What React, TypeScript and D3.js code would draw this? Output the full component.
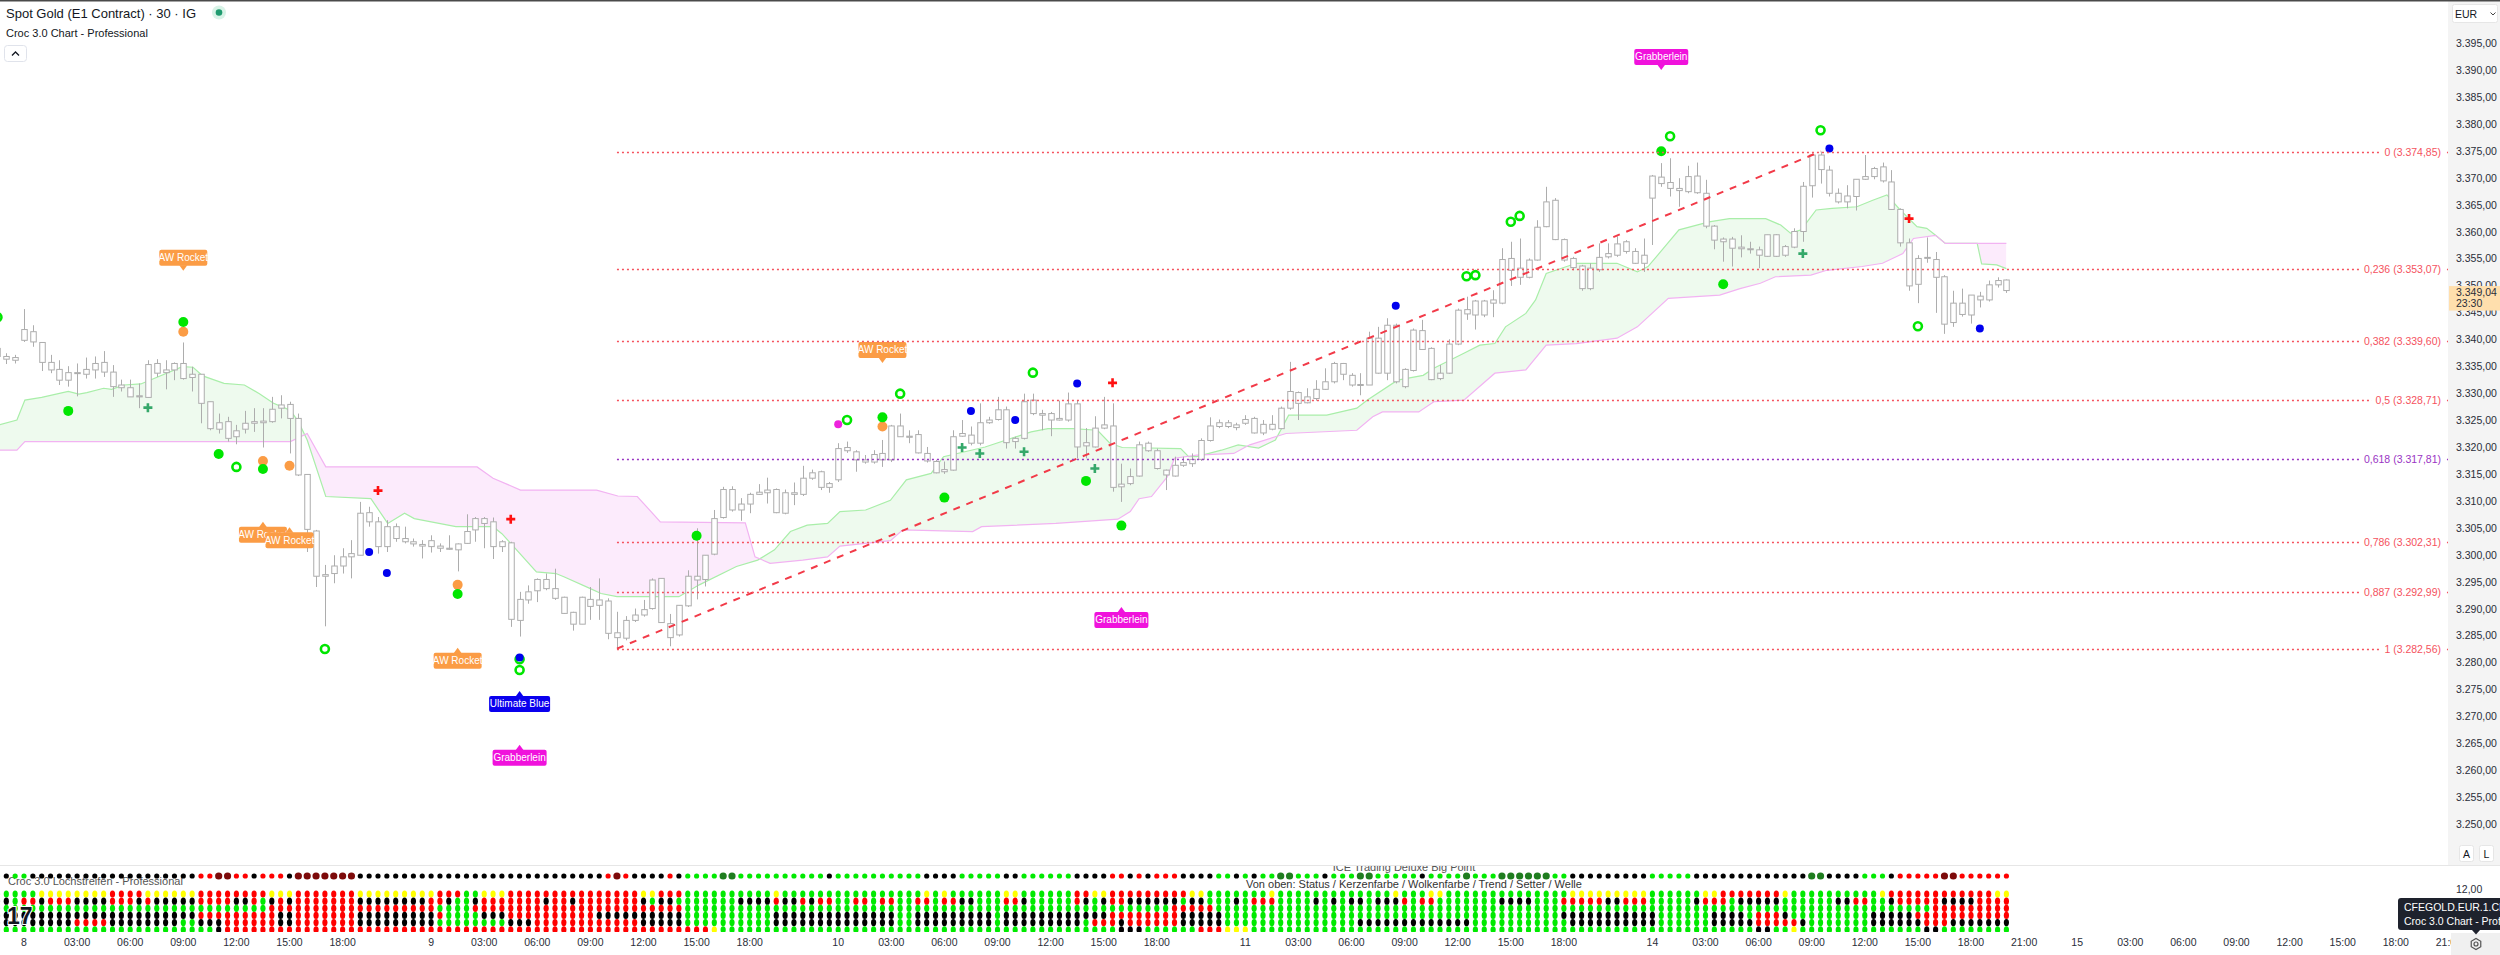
import React, { useEffect, useRef } from 'react';
import * as d3 from 'd3';

const W = 2500;
const H = 955;
const PANE_RIGHT = 2448;
const PANE_BOTTOM = 865;
const FIRST_BAR = -3;

// [open, high, low, close] per 30 min bar, first bar index = FIRST_BAR
const ohlc: number[][] = [
  [3338.3, 3338.6, 3336.4, 3336.8], [3336.8, 3337.4, 3335.4, 3336.3], [3336.1, 3337.1, 3335.5, 3336.6],
  [3339.8, 3345.6, 3339.5, 3341.8], [3341.4, 3342.6, 3338.6, 3339.5], [3339.4, 3339.4, 3334.1, 3335.7],
  [3335.7, 3337.1, 3333.7, 3334.3], [3334.4, 3336.1, 3331.5, 3332.4], [3332.4, 3335.0, 3331.2, 3333.8],
  [3333.8, 3335.5, 3329.4, 3333.7], [3333.5, 3336.6, 3332.7, 3334.4], [3334.3, 3336.8, 3332.7, 3335.5],
  [3335.7, 3337.8, 3333.0, 3333.9], [3333.9, 3335.2, 3329.3, 3331.2], [3331.5, 3332.5, 3330.3, 3331.0],
  [3331.0, 3332.5, 3329.3, 3329.3], [3329.5, 3331.8, 3327.2, 3329.3], [3329.2, 3336.1, 3329.2, 3335.3],
  [3335.5, 3336.3, 3333.0, 3333.7], [3333.8, 3336.1, 3330.7, 3334.3], [3334.3, 3335.7, 3332.4, 3335.5],
  [3335.5, 3339.4, 3332.5, 3332.7], [3332.9, 3334.9, 3330.3, 3333.5], [3333.5, 3333.5, 3324.4, 3328.1],
  [3328.4, 3328.4, 3323.1, 3323.4], [3323.3, 3326.2, 3322.5, 3324.5], [3324.7, 3325.6, 3321.0, 3321.6],
  [3321.9, 3324.1, 3320.5, 3323.0], [3323.3, 3326.7, 3322.5, 3324.4], [3324.4, 3327.2, 3322.8, 3324.7],
  [3324.5, 3327.2, 3319.9, 3324.8], [3324.7, 3329.3, 3324.5, 3327.0], [3327.2, 3329.6, 3325.3, 3327.8],
  [3327.9, 3328.4, 3318.8, 3325.3], [3325.3, 3326.2, 3314.6, 3314.8], [3314.9, 3314.9, 3300.5, 3304.7],
  [3304.4, 3304.6, 3294.0, 3296.0], [3296.0, 3298.1, 3286.7, 3296.3], [3296.5, 3299.9, 3294.7, 3297.9],
  [3297.9, 3301.2, 3296.5, 3299.6], [3299.6, 3302.7, 3295.6, 3300.2], [3299.9, 3309.8, 3299.9, 3307.7],
  [3307.8, 3308.9, 3305.2, 3306.1], [3306.1, 3307.0, 3300.2, 3301.5], [3301.5, 3306.4, 3300.5, 3305.2],
  [3305.2, 3305.8, 3302.4, 3303.0], [3303.0, 3305.2, 3302.1, 3302.4], [3302.4, 3303.0, 3301.5, 3302.0],
  [3301.9, 3302.7, 3299.3, 3301.6], [3301.5, 3303.6, 3300.4, 3302.6], [3301.6, 3302.1, 3300.5, 3301.2],
  [3301.2, 3303.6, 3300.9, 3301.0], [3300.9, 3302.1, 3296.9, 3302.0], [3302.1, 3307.5, 3302.0, 3304.3],
  [3304.6, 3307.0, 3302.4, 3306.7], [3306.7, 3307.0, 3301.2, 3305.8], [3306.1, 3306.9, 3299.2, 3301.5],
  [3301.5, 3302.7, 3300.5, 3302.4], [3302.2, 3302.4, 3286.6, 3288.0], [3287.8, 3293.1, 3284.8, 3291.7],
  [3291.6, 3294.3, 3290.9, 3293.1], [3293.3, 3295.6, 3291.2, 3295.4], [3295.4, 3296.5, 3293.4, 3293.7],
  [3293.7, 3297.4, 3291.6, 3291.9], [3292.1, 3292.2, 3289.0, 3289.1], [3289.3, 3289.4, 3285.9, 3287.1],
  [3287.1, 3292.2, 3287.1, 3292.1], [3291.7, 3294.0, 3287.9, 3290.4], [3290.6, 3295.6, 3287.9, 3291.6],
  [3291.4, 3291.9, 3284.3, 3285.4], [3285.5, 3289.4, 3282.56, 3284.6], [3284.5, 3288.6, 3284.1, 3287.8],
  [3287.8, 3290.0, 3287.5, 3288.8], [3288.8, 3291.6, 3288.5, 3289.8], [3290.0, 3295.6, 3289.8, 3295.3],
  [3295.6, 3295.6, 3287.4, 3287.4], [3287.2, 3289.0, 3283.0, 3284.6], [3285.1, 3290.6, 3284.8, 3290.6],
  [3290.5, 3297.1, 3290.3, 3296.0], [3296.0, 3304.9, 3291.7, 3295.3], [3295.4, 3299.9, 3294.1, 3299.9],
  [3300.1, 3308.3, 3299.9, 3306.7], [3306.9, 3312.6, 3306.7, 3312.1], [3312.1, 3312.7, 3308.0, 3308.3],
  [3308.3, 3310.5, 3306.3, 3309.4], [3309.4, 3311.5, 3307.7, 3311.2], [3311.2, 3313.1, 3311.1, 3311.6],
  [3311.5, 3314.3, 3309.5, 3312.0], [3312.1, 3312.3, 3307.7, 3307.8], [3307.7, 3312.1, 3307.5, 3311.5],
  [3311.2, 3313.4, 3309.2, 3311.5], [3311.2, 3316.5, 3310.9, 3314.2], [3314.2, 3315.8, 3313.9, 3315.2],
  [3315.4, 3315.6, 3312.0, 3312.5], [3312.5, 3313.5, 3311.5, 3313.2], [3313.9, 3320.7, 3313.5, 3319.7],
  [3319.3, 3321.0, 3318.9, 3319.9], [3319.1, 3319.4, 3315.4, 3317.6], [3317.6, 3318.5, 3316.9, 3317.2],
  [3317.2, 3319.4, 3316.9, 3318.6], [3317.6, 3321.3, 3316.3, 3318.8], [3317.6, 3324.1, 3317.2, 3323.9],
  [3323.9, 3326.2, 3321.9, 3321.9], [3322.0, 3323.1, 3320.7, 3321.8], [3322.3, 3323.1, 3318.8, 3318.9],
  [3318.8, 3320.0, 3317.1, 3317.4], [3317.3, 3317.6, 3315.1, 3315.2], [3315.4, 3317.3, 3315.0, 3315.8],
  [3315.7, 3323.1, 3315.6, 3321.9], [3322.0, 3325.0, 3321.9, 3322.5], [3322.2, 3323.8, 3320.3, 3320.7],
  [3320.7, 3328.1, 3320.3, 3324.5], [3324.5, 3325.6, 3324.3, 3325.0], [3325.1, 3329.3, 3324.9, 3326.9],
  [3326.9, 3327.5, 3319.7, 3320.8], [3321.0, 3321.9, 3319.7, 3321.6], [3321.6, 3329.9, 3321.4, 3328.4],
  [3328.7, 3329.9, 3325.9, 3326.2], [3326.2, 3326.9, 3323.1, 3325.9], [3326.2, 3326.5, 3322.0, 3325.0],
  [3325.0, 3328.6, 3324.9, 3325.3], [3325.0, 3330.1, 3324.7, 3328.0], [3328.0, 3328.7, 3317.9, 3320.0],
  [3320.2, 3323.5, 3317.9, 3320.8], [3320.0, 3325.7, 3319.9, 3323.5], [3323.5, 3329.3, 3323.3, 3324.1],
  [3323.9, 3328.1, 3311.7, 3312.5], [3312.6, 3316.9, 3309.8, 3313.1], [3313.2, 3316.0, 3312.9, 3314.5],
  [3314.6, 3321.0, 3314.5, 3320.4], [3320.7, 3321.0, 3319.1, 3319.3], [3319.3, 3319.7, 3315.8, 3316.0],
  [3315.7, 3315.8, 3312.0, 3314.8], [3314.6, 3318.2, 3314.5, 3316.6], [3316.6, 3318.2, 3316.3, 3317.1],
  [3316.9, 3318.8, 3316.3, 3317.7], [3317.7, 3321.6, 3317.4, 3321.2], [3321.2, 3325.5, 3321.0, 3323.9],
  [3323.8, 3325.1, 3323.5, 3324.5], [3324.5, 3325.0, 3323.5, 3323.8], [3323.6, 3324.5, 3323.1, 3324.1],
  [3324.4, 3325.9, 3324.1, 3325.1], [3325.3, 3325.6, 3322.5, 3322.6], [3322.6, 3325.0, 3322.2, 3324.2],
  [3324.2, 3325.9, 3323.1, 3323.3], [3323.4, 3327.5, 3323.3, 3327.2], [3327.2, 3335.8, 3326.9, 3330.3],
  [3330.1, 3330.3, 3325.0, 3328.1], [3328.2, 3330.9, 3328.1, 3329.3], [3329.0, 3332.4, 3328.6, 3330.7],
  [3330.7, 3334.6, 3330.6, 3332.1], [3332.1, 3335.8, 3331.8, 3335.5], [3335.5, 3335.6, 3332.4, 3333.5],
  [3333.3, 3333.7, 3331.2, 3331.5], [3331.5, 3333.7, 3329.6, 3331.6], [3331.5, 3341.4, 3331.5, 3340.2],
  [3340.2, 3342.3, 3333.6, 3333.7], [3333.7, 3343.9, 3332.4, 3342.6], [3342.6, 3342.9, 3331.8, 3332.1],
  [3331.2, 3334.6, 3330.9, 3334.4], [3334.2, 3342.0, 3334.0, 3341.7], [3341.6, 3343.6, 3338.0, 3338.1],
  [3338.3, 3338.5, 3332.4, 3332.5], [3332.7, 3335.2, 3332.4, 3333.7], [3333.7, 3340.0, 3333.6, 3339.1],
  [3339.1, 3345.7, 3338.9, 3345.4], [3344.7, 3347.9, 3343.6, 3345.5], [3344.5, 3347.3, 3341.8, 3347.1],
  [3347.1, 3347.3, 3344.1, 3344.5], [3346.7, 3349.1, 3344.1, 3347.3], [3346.7, 3356.9, 3346.5, 3354.8],
  [3355.0, 3358.1, 3349.9, 3352.8], [3353.2, 3358.7, 3350.1, 3351.5], [3351.5, 3355.0, 3351.3, 3354.7],
  [3354.7, 3362.1, 3354.6, 3360.8], [3360.9, 3368.3, 3360.8, 3365.5], [3365.8, 3366.2, 3358.4, 3358.5],
  [3358.5, 3358.7, 3354.4, 3354.7], [3355.0, 3355.3, 3352.8, 3353.3], [3353.6, 3353.8, 3349.0, 3349.4],
  [3349.4, 3354.1, 3349.1, 3353.2], [3352.9, 3357.8, 3352.5, 3355.2], [3355.3, 3357.8, 3355.0, 3355.9],
  [3355.6, 3359.1, 3355.3, 3357.7], [3358.1, 3358.4, 3355.9, 3356.3], [3356.3, 3356.9, 3354.0, 3354.1],
  [3354.1, 3358.7, 3352.5, 3355.6], [3366.2, 3370.5, 3357.5, 3370.3], [3370.1, 3372.7, 3368.3, 3368.9],
  [3369.1, 3373.6, 3366.5, 3368.0], [3368.0, 3369.9, 3364.6, 3367.6], [3367.4, 3372.2, 3367.1, 3370.2],
  [3370.3, 3372.8, 3367.0, 3367.2], [3367.1, 3369.6, 3360.6, 3361.0], [3361.0, 3361.2, 3356.7, 3358.4],
  [3358.6, 3358.9, 3354.4, 3358.1], [3358.6, 3359.0, 3353.5, 3356.9], [3357.1, 3359.3, 3355.2, 3356.8],
  [3356.8, 3358.1, 3355.9, 3356.7], [3356.6, 3357.2, 3353.2, 3355.6], [3355.4, 3359.4, 3355.3, 3359.4],
  [3359.4, 3359.5, 3355.3, 3355.4], [3355.6, 3357.5, 3355.3, 3357.2], [3357.1, 3360.6, 3356.9, 3360.0],
  [3360.0, 3369.2, 3358.1, 3368.4], [3368.5, 3374.5, 3366.3, 3374.2], [3374.2, 3374.85, 3368.9, 3371.5],
  [3371.4, 3372.2, 3366.5, 3367.1], [3367.1, 3368.0, 3365.2, 3365.5], [3365.5, 3368.6, 3364.3, 3366.6],
  [3366.5, 3369.7, 3363.9, 3369.7], [3369.7, 3374.2, 3369.6, 3370.2], [3370.2, 3372.0, 3369.7, 3371.7],
  [3372.0, 3372.8, 3369.1, 3369.4], [3369.2, 3371.4, 3364.0, 3364.1], [3364.1, 3364.3, 3357.2, 3357.9],
  [3357.9, 3358.7, 3349.0, 3349.9], [3350.2, 3355.6, 3346.7, 3355.0], [3355.2, 3358.9, 3354.2, 3355.1],
  [3354.8, 3356.2, 3344.9, 3351.5], [3351.6, 3351.9, 3341.0, 3342.8], [3343.1, 3349.0, 3342.3, 3346.7],
  [3346.7, 3349.4, 3344.2, 3344.6], [3344.5, 3348.2, 3342.9, 3348.2], [3348.0, 3348.8, 3345.9, 3347.3],
  [3347.3, 3350.9, 3347.0, 3350.1], [3350.1, 3351.5, 3349.6, 3350.9], [3351.0, 3351.1, 3348.6, 3349.04],
];

// cloud edges read at their vertices: [bar, price]
const spanGreen: [number, number][] = [
  [-3, 3324.0], [-0.8, 3325.0], [0.1, 3328.7], [2, 3329.2], [5, 3330.3], [6.2, 3329.8], [7.1, 3330.1],
  [9, 3330.9], [9.9, 3330.7], [11.3, 3331.5], [13.2, 3331.7], [15.1, 3333.0], [17.9, 3334.9], [19.1, 3334.8],
  [20.2, 3333.2], [22.6, 3331.8], [24.9, 3331.5], [26.6, 3329.9], [28.2, 3328.1], [30.1, 3326.8], [31, 3324.7],
  [32, 3321.3], [34.1, 3310.8], [39.2, 3310.4], [41.1, 3305.8], [43, 3307.7], [44.1, 3306.7], [48.8, 3305.2],
  [53, 3305.2], [54, 3303.9], [57.9, 3296.8], [60.1, 3296.5], [61, 3295.9], [64, 3293.7], [65.2, 3292.8],
  [67, 3292.2], [74, 3292.2], [76.3, 3294.4], [80.5, 3297.8], [82.9, 3299.0], [84.8, 3300.9], [86.6, 3304.3],
  [88.5, 3305.5], [90.8, 3305.8], [92.2, 3308.0], [95.1, 3308.3], [97.9, 3310.1], [99.7, 3313.9], [102.5, 3315.1],
  [103.9, 3318.2], [108.6, 3320.0], [113.8, 3322.8], [115.7, 3323.4], [118.5, 3323.4], [121.3, 3323.1],
  [122.7, 3320.7], [124.1, 3319.9], [130.7, 3319.7], [131.6, 3318.2], [132.5, 3318.2], [135.3, 3319.4],
  [137.2, 3320.4], [139.5, 3319.8], [141.4, 3321.3], [142.9, 3325.9], [147.2, 3325.9], [150.6, 3327.2],
  [151.8, 3328.7], [155.2, 3332.4], [158.1, 3333.3], [159.3, 3334.6], [162.7, 3337.4], [164.5, 3338.9],
  [166.2, 3339.2], [167.4, 3342.3], [169.7, 3344.8], [170.8, 3347.3], [172, 3352.2], [175.4, 3354.1],
  [180, 3354.1], [182.3, 3352.5], [183.5, 3353.5], [184.6, 3355.6], [187, 3360.3], [190.4, 3361.8],
  [192.7, 3362.4], [196.8, 3362.4], [198.5, 3361.2], [199.6, 3359.7], [200.8, 3360.3], [202.5, 3364.0],
  [204.3, 3364.3], [207.1, 3364.6], [208.9, 3365.8], [210.5, 3366.8], [212, 3364.0], [213.9, 3360.9],
  [215, 3360.6], [216, 3359.3], [217.1, 3357.8], [220.7, 3357.8], [221.2, 3354.0], [222.9, 3353.8], [224, 3353.1],
];

const spanPink: [number, number][] = [
  [-3, 3319.4], [-0.8, 3319.4], [0.1, 3321.0], [30.1, 3321.0], [32, 3322.5], [34.1, 3316.3], [51.2, 3316.3],
  [53, 3314.2], [56.1, 3312.0], [64.7, 3312.0], [67.1, 3310.9], [69.3, 3310.8], [71.9, 3306.1], [81.5, 3305.9],
  [82.6, 3299.6], [84.3, 3298.4], [88, 3299.0], [90.8, 3299.6], [92.2, 3301.6], [97.9, 3302.6], [99.3, 3304.6],
  [107.2, 3304.3], [108.2, 3305.2], [116.6, 3305.8], [123.6, 3306.6], [125, 3308.0], [126, 3310.4],
  [127.4, 3310.8], [129.2, 3314.5], [130, 3317.9], [132.5, 3318.5], [136.7, 3318.8], [138.5, 3320.4],
  [142.6, 3322.5], [150.6, 3323.1], [152.4, 3325.6], [153.5, 3326.5], [157.6, 3326.5], [159.3, 3328.4],
  [162.7, 3328.7], [166.2, 3333.7], [169.7, 3334.3], [172, 3338.9], [175.4, 3339.2], [180, 3340.2],
  [182.3, 3342.3], [185.8, 3347.6], [191.6, 3348.2], [193.9, 3349.4], [196.2, 3350.4], [197.9, 3351.6],
  [201.9, 3351.9], [203.7, 3352.8], [207.7, 3353.5], [210, 3354.1], [212.3, 3355.9], [213.5, 3358.7],
  [216, 3359.3], [217.1, 3357.8], [224, 3357.8],
];

const fibRatios = ['0', '0,236', '0,382', '0,5', '0,618', '0,786', '0,887', '1'];
const fibPrices = [3374.85, 3353.07, 3339.60, 3328.71, 3317.81, 3302.31, 3292.99, 3282.56];
const fibStartBar = 67;
const trendFrom: [number, number] = [67, 3282.56];
const trendTo: [number, number] = [203, 3374.85];

// [bar, price, kind]
const markers: [number, number, string][] = [
  [-3, 3344.1, 'ring'], [5, 3326.7, 'dot'], [14, 3327.3, 'plusG'], [18, 3341.4, 'orange'], [18, 3343.2, 'dot'],
  [22, 3318.7, 'dot'], [24, 3316.3, 'ring'], [27, 3317.4, 'orange'], [27, 3315.9, 'dot'], [30, 3316.5, 'orange'],
  [34, 3282.5, 'ring'], [39, 3300.5, 'blue'], [40, 3311.9, 'plusR'], [41, 3296.6, 'blue'],
  [49, 3294.4, 'orange'], [49, 3292.7, 'dot'], [55, 3306.6, 'plusR'],
  [56, 3280.6, 'ring'], [56, 3280.9, 'blue'], [56, 3278.6, 'ring'],
  [76, 3303.5, 'dot'], [92, 3324.2, 'magenta'], [93, 3325.0, 'ring'], [97, 3323.8, 'orange'], [97, 3325.5, 'dot'],
  [99, 3329.9, 'ring'], [104, 3310.6, 'dot'], [106, 3319.9, 'plusG'], [107, 3326.7, 'blue'], [108, 3318.8, 'plusG'],
  [112, 3325.0, 'blue'], [113, 3319.1, 'plusG'], [114, 3333.8, 'ring'], [119, 3331.8, 'blue'], [120, 3313.7, 'dot'],
  [121, 3316.0, 'plusG'], [123, 3331.9, 'plusR'], [124, 3305.4, 'dot'],
  [155, 3346.2, 'blue'], [163, 3351.7, 'ring'], [164, 3351.9, 'ring'], [168, 3361.8, 'ring'], [169, 3362.9, 'ring'],
  [185, 3374.9, 'dot'], [186, 3377.7, 'ring'], [192, 3350.2, 'dot'], [201, 3355.9, 'plusG'],
  [203, 3378.8, 'ring'], [204, 3375.4, 'blue'], [213, 3362.4, 'plusR'], [214, 3342.4, 'ring'], [221, 3342.0, 'blue'],
];

// [bar, tip price, text, direction]
const callouts: [number, number, string, string][] = [
  [18, 3352.7, 'AW Rocket', 'down'],
  [97, 3335.6, 'AW Rocket', 'down'],
  [27, 3306.1, 'AW Rocket', 'up'],
  [30, 3305.1, 'AW Rocket', 'up'],
  [49, 3282.7, 'AW Rocket', 'up'],
  [56, 3274.7, 'Ultimate Blue', 'up'],
  [56, 3264.7, 'Grabberlein', 'up'],
  [124, 3290.3, 'Grabberlein', 'up'],
  [185, 3390.0, 'Grabberlein', 'down'],
];

const priceTicks = [3395, 3390, 3385, 3380, 3375, 3370, 3365, 3360, 3355, 3350, 3345, 3340, 3335, 3330,
  3325, 3320, 3315, 3310, 3305, 3300, 3295, 3290, 3285, 3280, 3275, 3270, 3265, 3260, 3255, 3250];
const lastPrice = 3349.04;

const timeTicks: [number, string][] = [
  [0, '8'], [6, '03:00'], [12, '06:00'], [18, '09:00'], [24, '12:00'], [30, '15:00'], [36, '18:00'],
  [46, '9'], [52, '03:00'], [58, '06:00'], [64, '09:00'], [70, '12:00'], [76, '15:00'], [82, '18:00'],
  [92, '10'], [98, '03:00'], [104, '06:00'], [110, '09:00'], [116, '12:00'], [122, '15:00'], [128, '18:00'],
  [138, '11'], [144, '03:00'], [150, '06:00'], [156, '09:00'], [162, '12:00'], [168, '15:00'], [174, '18:00'],
  [184, '14'], [190, '03:00'], [196, '06:00'], [202, '09:00'], [208, '12:00'], [214, '15:00'], [220, '18:00'],
  [226, '21:00'], [232, '15'], [238, '03:00'], [244, '06:00'], [250, '09:00'], [256, '12:00'], [262, '15:00'],
  [268, '18:00'], [274, '21:00'],
];

// punch strip rows, run-length: colour letter + count, one dot per bar
const bigPointRow = 'g1k1g2k19r2R2r2k1r2r1k1R7k27k1r1R1r1k4r1k1g4G2g10k1g10k4g5k2g6k4r2k1r1k1r3k4g2k1g1k1g2G2g3k1g3G2g5k1g4G1g3G6g2k9g5k13G2k4g3k1r5R2r6';
const statusRow = 'g5y8r4y6r8y3r7y9r3g2y3r15y2r3g10y1g16y1g1y1g6y2g6r2y2r9y2g7y1g13y1g3y2g14y9g6y2r7y1g10y1r12y2';
const candleRow = 'k2g1r2k1r3k4r3k1r1k5r4k2r1g1k1r1k1r7k8r2k1g2k1r3r4k1r2k1r7k1g1k2g7k4r1k2r1k1r2g2r2g1r2g2r2g1r2k2g3r2k1g5r1k1g1k1r2k6g1k2g3k1g1r3g4k1g1k1g1k2g1k3r1g1r2g7k4g3r5k2r3g5k1r3g1k5g6k2r2g2k1r5k4r4';
const cloudRow = 'g31r19g4r24g55r5g81r9';
const trendRow = 'k23r9k2r7k9r1g4k3r10k10g10k14g2k9g1k12r8k5g38k11g6k4g1r3k1g9k5r11';
const setterRow = 'k9r4k8g2k3r6k2r7k9g8k3r12k5g10k14g2k9g1k9g1r3k1r6k5g3g12k13g11k10g6k5r5k1g7k6r3k7';
const waveRow = 'g25k1r55y1g45k3g6r3y3g57k2g2y1g14k2g8';

const dotColors: Record<string, string> = {
  g: '#00ea00', G: '#1f7d1f', k: '#000000', r: '#ff0000', R: '#7d0a0a', y: '#ffff00',
};

function decode(rle: string): string[] {
  const out: string[] = [];
  rle.replace(/([a-zA-Z])(\d+)/g, (_m, c: string, n: string) => {
    for (let k = 0; k < +n; k++) out.push(c);
    return '';
  });
  return out;
}

const FONT = "'Liberation Sans', Arial, sans-serif";
const NARROW = "'Liberation Sans Narrow', 'Liberation Sans', Arial, sans-serif";

export default function App() {
  const svgRef = useRef<SVGSVGElement>(null);

  useEffect(() => {
    if (!svgRef.current) return;
    const svg = d3.select(svgRef.current);
    svg.selectAll('*').remove();

    const de = d3.formatLocale({ decimal: ',', thousands: '.', grouping: [3], currency: ['', ''] });
    const fmt = de.format(',.2f');

    const x = d3.scaleLinear().domain([0, 1]).range([24, 32.85]);
    const y = d3.scaleLinear().domain([3395, 3250]).range([43, 824]);

    svg.append('rect').attr('width', W).attr('height', H).attr('fill', '#ffffff');

    const defs = svg.append('defs');
    defs.append('clipPath').attr('id', 'pane').append('rect')
      .attr('x', 0).attr('y', 0).attr('width', PANE_RIGHT).attr('height', PANE_BOTTOM);

    const aboveGreen = d3.area<[number, number]>().x(d => x(d[0])).y0(0).y1(d => y(d[1]));
    const belowGreen = d3.area<[number, number]>().x(d => x(d[0])).y0(PANE_BOTTOM).y1(d => y(d[1]));
    const aboveGreenPath = aboveGreen(spanGreen) as string;
    const belowGreenPath = belowGreen(spanGreen) as string;
    const abovePinkPath = aboveGreen(spanPink) as string;
    const belowPinkPath = belowGreen(spanPink) as string;
    defs.append('clipPath').attr('id', 'abovePink').append('path').attr('d', abovePinkPath);
    defs.append('clipPath').attr('id', 'aboveGreen').append('path').attr('d', aboveGreenPath);

    const pane = svg.append('g').attr('clip-path', 'url(#pane)');

    // cloud fills
    pane.append('g').attr('clip-path', 'url(#abovePink)')
      .append('path').attr('d', belowGreenPath).attr('fill', '#eefaee');
    pane.append('g').attr('clip-path', 'url(#aboveGreen)')
      .append('path').attr('d', belowPinkPath).attr('fill', '#fcebfc');

    const line = d3.line<[number, number]>().x(d => x(d[0])).y(d => y(d[1]));
    pane.append('path').attr('d', line(spanGreen)).attr('fill', 'none')
      .attr('stroke', '#a9eea9').attr('stroke-width', 1.2);
    pane.append('path').attr('d', line(spanPink)).attr('fill', 'none')
      .attr('stroke', '#f2b3f2').attr('stroke-width', 1.2);

    // fibonacci levels
    const fibG = svg.append('g');
    fibPrices.forEach((p, k) => {
      const col = fibRatios[k] === '0,618' ? '#9a35c4' : '#f5525e';
      const yy = Math.round(y(p)) + 0.5;
      fibG.append('line').attr('x1', x(fibStartBar)).attr('x2', PANE_RIGHT)
        .attr('y1', yy).attr('y2', yy).attr('stroke', col).attr('stroke-width', 1.6)
        .attr('stroke-dasharray', '2,3');
      const label = fibG.append('text').attr('x', 2441).attr('y', yy + 3.8)
        .attr('text-anchor', 'end').attr('fill', col).attr('font-size', 10.5)
        .text(`${fibRatios[k]} (${fmt(p)})`);
      const bb = (label.node() as SVGTextElement).getBBox();
      fibG.insert('rect', 'text:last-child').attr('x', bb.x - 4).attr('y', bb.y)
        .attr('width', bb.width + 7).attr('height', bb.height).attr('fill', '#ffffff');
    });

    // candles
    const candleG = pane.append('g');
    ohlc.forEach((c, k) => {
      const i = k + FIRST_BAR;
      const cx = Math.round(x(i)) + 0.5;
      const [o, h, l, cl] = c;
      candleG.append('line').attr('x1', cx).attr('x2', cx).attr('y1', y(h)).attr('y2', y(l))
        .attr('stroke', '#adadad').attr('stroke-width', 1);
      const top = y(Math.max(o, cl));
      const hgt = Math.max(1, Math.abs(y(o) - y(cl)));
      candleG.append('rect').attr('x', cx - 2.75).attr('y', top).attr('width', 5.5).attr('height', hgt)
        .attr('fill', '#ffffff').attr('stroke', '#adadad').attr('stroke-width', 1);
    });

    // trend line
    pane.append('line').attr('x1', x(trendFrom[0])).attr('y1', y(trendFrom[1]))
      .attr('x2', x(trendTo[0])).attr('y2', y(trendTo[1]))
      .attr('stroke', '#f23a48').attr('stroke-width', 2).attr('stroke-dasharray', '7,7');

    // markers
    const mk = pane.append('g');
    markers.forEach(([b, p, kind]) => {
      const cx = x(b);
      const cy = y(p);
      if (kind === 'dot') mk.append('circle').attr('cx', cx).attr('cy', cy).attr('r', 5).attr('fill', '#00e600');
      else if (kind === 'orange') mk.append('circle').attr('cx', cx).attr('cy', cy).attr('r', 5).attr('fill', '#fb9c45');
      else if (kind === 'blue') mk.append('circle').attr('cx', cx).attr('cy', cy).attr('r', 4).attr('fill', '#0000ee');
      else if (kind === 'magenta') mk.append('circle').attr('cx', cx).attr('cy', cy).attr('r', 4).attr('fill', '#ee22dd');
      else if (kind === 'ring') mk.append('circle').attr('cx', cx).attr('cy', cy).attr('r', 4)
        .attr('fill', '#ffffff').attr('stroke', '#00e600').attr('stroke-width', 2.6);
      else {
        const col = kind === 'plusR' ? '#ff1010' : '#35a86a';
        mk.append('path').attr('d', `M${cx - 4.5},${cy}H${cx + 4.5}M${cx},${cy - 4.5}V${cy + 4.5}`)
          .attr('stroke', col).attr('stroke-width', 2.6);
      }
    });

    // callouts
    const calloutColors: Record<string, string> = {
      'AW Rocket': '#fb9c45', 'Ultimate Blue': '#0a00ee', 'Grabberlein': '#f012dc',
    };
    const calloutWidths: Record<string, number> = { 'AW Rocket': 48, 'Ultimate Blue': 61, 'Grabberlein': 54 };
    const co = pane.append('g');
    callouts.forEach(([b, p, txt, dir]) => {
      const cx = x(b);
      const tip = y(p);
      const w = calloutWidths[txt];
      const col = calloutColors[txt];
      const boxTop = dir === 'down' ? tip - 5 - 16 : tip + 5;
      const tri = dir === 'down'
        ? `M${cx - 4},${tip - 5.5}L${cx},${tip}L${cx + 4},${tip - 5.5}Z`
        : `M${cx - 4},${tip + 5.5}L${cx},${tip}L${cx + 4},${tip + 5.5}Z`;
      co.append('path').attr('d', tri).attr('fill', col);
      co.append('rect').attr('x', cx - w / 2).attr('y', boxTop).attr('width', w).attr('height', 16)
        .attr('rx', 2).attr('fill', col);
      co.append('text').attr('x', cx).attr('y', boxTop + 11.5).attr('text-anchor', 'middle')
        .attr('fill', '#ffffff').attr('font-size', 10).attr('font-family', NARROW).text(txt);
    });

    // price axis
    const axis = svg.append('g');
    axis.append('rect').attr('x', PANE_RIGHT).attr('y', 0).attr('width', W - PANE_RIGHT)
      .attr('height', PANE_BOTTOM).attr('fill', '#f4f4f4');
    priceTicks.forEach(p => {
      axis.append('text').attr('x', 2456).attr('y', y(p) + 4).attr('font-size', 10.5)
        .attr('fill', '#2a2e39').text(fmt(p));
    });
    const tagY = y(lastPrice);
    axis.append('rect').attr('x', 2449).attr('y', tagY - 4.5).attr('width', 51).attr('height', 24.5)
      .attr('fill', '#ffdfad');
    axis.append('text').attr('x', 2456).attr('y', tagY + 5.5).attr('font-size', 10.5)
      .attr('fill', '#2a2e39').text(fmt(lastPrice));
    axis.append('text').attr('x', 2456).attr('y', tagY + 16.5).attr('font-size', 10.5)
      .attr('fill', '#2a2e39').text('23:30');
    axis.append('rect').attr('x', 2452.5).attr('y', 4.5).attr('width', 45).attr('height', 18).attr('rx', 2)
      .attr('fill', '#ffffff').attr('stroke', '#e6e6e6');
    axis.append('text').attr('x', 2455).attr('y', 17.5).attr('font-size', 10.5).attr('fill', '#131722').text('EUR');
    axis.append('path').attr('d', 'M2490.5,12.5L2493,15L2495.5,12.5').attr('fill', 'none')
      .attr('stroke', '#444').attr('stroke-width', 1);
    [['A', 2459], ['L', 2479]].forEach(([t, bx]) => {
      axis.append('rect').attr('x', +bx + 0.5).attr('y', 845.5).attr('width', 14).attr('height', 16).attr('rx', 2)
        .attr('fill', '#ffffff').attr('stroke', '#e6e6e6');
      axis.append('text').attr('x', +bx + 7.5).attr('y', 857.5).attr('text-anchor', 'middle')
        .attr('font-size', 10.5).attr('fill', '#131722').text(t as string);
    });

    // header
    svg.append('rect').attr('x', 0).attr('y', 0).attr('width', W).attr('height', 1.5).attr('fill', '#4a4a4a');
    svg.append('text').attr('x', 6).attr('y', 18).attr('font-size', 13).attr('fill', '#131722')
      .text('Spot Gold (E1 Contract) · 30 · IG');
    svg.append('circle').attr('cx', 219).attr('cy', 12.5).attr('r', 7).attr('fill', '#d8f3e7');
    svg.append('circle').attr('cx', 219).attr('cy', 12.5).attr('r', 3.3).attr('fill', '#1f9b6f');
    svg.append('text').attr('x', 6).attr('y', 36.5).attr('font-size', 11).attr('fill', '#131722')
      .text('Croc 3.0 Chart - Professional');
    svg.append('rect').attr('x', 4.5).attr('y', 45.5).attr('width', 22).attr('height', 16).attr('rx', 3)
      .attr('fill', '#ffffff').attr('stroke', '#e0e3eb');
    svg.append('path').attr('d', 'M12,55.5L15.5,52L19,55.5').attr('fill', 'none')
      .attr('stroke', '#131722').attr('stroke-width', 1.3);

    // lower pane: punch strip
    svg.append('line').attr('x1', 0).attr('x2', W).attr('y1', PANE_BOTTOM + 0.5).attr('y2', PANE_BOTTOM + 0.5)
      .attr('stroke', '#e6e6e6');
    const strip = svg.append('g');
    defs.append('clipPath').attr('id', 'lower').append('rect')
      .attr('x', 0).attr('y', PANE_BOTTOM + 1).attr('width', PANE_RIGHT).attr('height', 66);
    const lower = strip.append('g').attr('clip-path', 'url(#lower)');
    lower.append('text').attr('x', 8).attr('y', 885).attr('font-size', 11).attr('fill', '#555')
      .text('Croc 3.0 Lochstreifen - Professional');
    lower.append('text').attr('x', 1404).attr('y', 870.5).attr('text-anchor', 'middle').attr('font-size', 11)
      .attr('fill', '#555').text('ICE Trading Deluxe Big Point');
    lower.append('text').attr('x', 1246).attr('y', 888).attr('font-size', 11).attr('fill', '#333')
      .text('Von oben: Status / Kerzenfarbe / Wolkenfarbe / Trend / Setter / Welle');

    decode(bigPointRow).forEach((c, k) => {
      const big = c === 'R' || c === 'G';
      lower.append('circle').attr('cx', x(k + FIRST_BAR)).attr('cy', 876).attr('r', big ? 3.6 : 2.6)
        .attr('fill', dotColors[c]);
    });
    [statusRow, candleRow, cloudRow, trendRow, setterRow, waveRow].forEach((row, r) => {
      const cy = 894 + r * 7.15;
      decode(row).forEach((c, k) => {
        lower.append('ellipse').attr('cx', x(k + FIRST_BAR)).attr('cy', cy).attr('rx', 2.6).attr('ry', 3.6)
          .attr('fill', dotColors[c]);
      });
    });
    lower.append('text').attr('x', 7).attr('y', 924).attr('font-size', 23).attr('font-weight', 900)
      .attr('fill', '#131722').attr('stroke', '#ffffff').attr('stroke-width', 2)
      .attr('paint-order', 'stroke').text('17');

    svg.append('text').attr('x', 2456).attr('y', 893).attr('font-size', 10.5).attr('fill', '#2a2e39').text('12,00');

    // time axis
    const tAxis = svg.append('g');
    timeTicks.forEach(([b, t]) => {
      tAxis.append('text').attr('x', x(b)).attr('y', 946).attr('text-anchor', 'middle')
        .attr('font-size', 10.5).attr('fill', '#2a2e39').text(t);
    });
    tAxis.append('rect').attr('x', 2451).attr('y', 933).attr('width', 49).attr('height', 22).attr('fill', '#f0f0f0');
    tAxis.append('path')
      .attr('d', d3.range(6).map(k => {
        const a = Math.PI / 6 + (k * Math.PI) / 3;
        return `${k === 0 ? 'M' : 'L'}${2476 + 5.5 * Math.cos(a)},${944 + 5.5 * Math.sin(a)}`;
      }).join('') + 'Z')
      .attr('fill', 'none').attr('stroke', '#555').attr('stroke-width', 1.2);
    tAxis.append('circle').attr('cx', 2476).attr('cy', 944).attr('r', 2).attr('fill', 'none')
      .attr('stroke', '#555').attr('stroke-width', 1.2);

    // tooltip
    const tip = svg.append('g');
    tip.append('rect').attr('x', 2398).attr('y', 898).attr('width', 110).attr('height', 32).attr('rx', 3)
      .attr('fill', '#1e222d');
    tip.append('path').attr('d', 'M2472,930L2476,934.5L2480,930Z').attr('fill', '#1e222d');
    tip.append('text').attr('x', 2404).attr('y', 910.5).attr('font-size', 10.5).attr('fill', '#ffffff')
      .text('CFEGOLD.EUR.1.CFE');
    tip.append('text').attr('x', 2404).attr('y', 925).attr('font-size', 10.5).attr('fill', '#ffffff')
      .text('Croc 3.0 Chart - Professional');
  }, []);

  return (
    <svg
      ref={svgRef}
      width={W}
      height={H}
      style={{ position: 'absolute', left: 0, top: 0, fontFamily: FONT }}
    />
  );
}
